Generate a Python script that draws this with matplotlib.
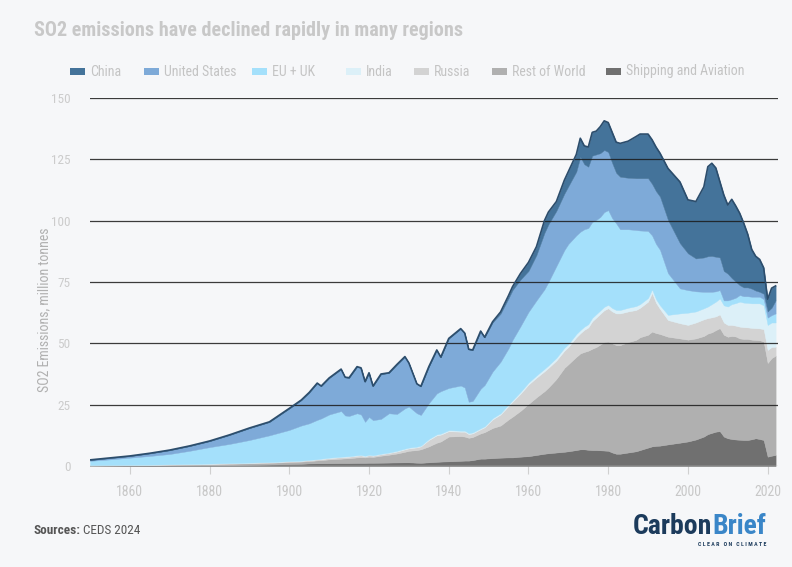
import numpy as np
import matplotlib
matplotlib.use('Agg')
import matplotlib.pyplot as plt
from matplotlib import font_manager
from matplotlib.patches import Rectangle

# SO2 emissions by region, million tonnes
years = [1850, 1855, 1860, 1865, 1870, 1875, 1880, 1885, 1890, 1895,
         1900, 1903, 1905, 1907, 1908, 1910, 1913, 1914, 1915, 1917, 1918, 1919,
         1920, 1921, 1923, 1925, 1927, 1929, 1930, 1932, 1933, 1935, 1937, 1938,
         1940, 1943, 1944, 1945, 1946, 1948, 1949, 1951, 1953, 1955, 1956, 1958,
         1960, 1962, 1964, 1965, 1967, 1969, 1970, 1972, 1973, 1974, 1975, 1976, 1977, 1978, 1979,
         1980, 1981, 1982, 1983, 1985, 1987, 1988, 1990, 1991, 1992, 1993, 1995, 1998,
         2000, 2002, 2004, 2005, 2006, 2007, 2008, 2009, 2010, 2011, 2012, 2013, 2014, 2015,
         2016, 2017, 2018, 2019, 2020, 2021, 2022]

shipping = [.1, .1, .15, .2, .25, .3, .35, .4, .5, .6,
            .8, .9, 1.05, 1.1, 1.1, 1.15, 1.2, 1.2, 1.2, 1.25, 1.25, 1.25,
            1.3, 1.3, 1.35, 1.4, 1.45, 1.5, 1.5, 1.35, 1.3, 1.5, 1.7, 1.8,
            1.9, 2.1, 2.2, 2.2, 2.4, 3.0, 3.0, 3.2, 3.4, 3.5, 3.5, 3.8,
            4.0, 4.5, 5.0, 5.2, 5.5, 5.8, 6.0, 6.5, 6.8, 6.8, 6.6, 6.5, 6.5, 6.4, 6.3,
            6.2, 5.5, 5.0, 5.0, 5.5, 6.0, 6.5, 7.5, 8.0, 8.2, 8.3, 8.8, 9.5,
            10.0, 10.8, 12.0, 13.0, 13.5, 14.0, 14.2, 12.0, 11.3, 11.0, 10.8, 10.7, 10.6, 10.6,
            10.9, 11.3, 11.0, 10.6, 3.8, 4.2, 4.5]

rest_of_world = [.1, .15, .15, .2, .25, .3, .4, .5, .6, .7,
                 .8, .9, .95, 1.2, 1.3, 1.55, 1.8, 1.9, 2.0, 2.25, 2.35, 2.25,
                 2.5, 2.4, 2.85, 3.2, 3.65, 4.3, 4.7, 5.15, 5.5, 6.5, 7.8, 8.2,
                 10.1, 10.1, 9.8, 9.3, 9.4, 10.3, 10.8, 12.3, 13.1, 15.5, 16.6, 18.7,
                 21.3, 23.5, 25.5, 26.8, 30.0, 34.2, 35.5, 38.0, 39.1, 39.7, 40.4, 41.3, 42.0, 43.1, 44.2,
                 44.5, 44.5, 44.3, 44.3, 45.0, 45.4, 46.0, 46.0, 46.8, 46.0, 45.5, 43.9, 42.5,
                 41.5, 41.2, 41.0, 41.0, 41.0, 41.4, 42.0, 41.5, 41.4, 42.0, 42.0, 41.3, 41.2, 41.2,
                 40.6, 40.1, 40.3, 40.1, 38.2, 39.8, 40.5]

russia = [.05, .05, .1, .1, .15, .15, .15, .2, .2, .2,
          .3, .3, .4, .4, .4, .5, .6, .6, .6, .7, .7, .5,
          .6, .5, .6, .7, .8, 1.0, 1.0, 1.1, 1.2, 2.6, 3.0, 2.8,
          2.2, 1.8, 2.0, 1.5, 1.5, 1.7, 2.0, 3.5, 4.5, 5.5, 6.1, 7.0,
          7.9, 8.0, 8.1, 8.0, 7.5, 7.0, 7.0, 8.0, 8.2, 9.0, 9.5, 11.2, 12.0, 12.5, 13.0,
          13.6, 13.0, 12.9, 12.9, 12.5, 12.2, 12.0, 13.5, 15.8, 12.3, 10.2, 6.8, 6.2,
          6.0, 6.5, 6.8, 6.3, 6.1, 5.6, 5.6, 5.0, 4.8, 4.5, 4.4, 4.8, 4.8, 4.7,
          4.8, 4.8, 4.8, 5.1, 5.3, 4.5, 3.6]

india = [.05, .05, .05, .05, .05, .1, .1, .1, .1, .1,
         .1, .1, .1, .1, .2, .2, .2, .2, .2, .2, .2, .2,
         .2, .2, .2, .2, .3, .3, .3, .3, .3, .4, .4, .4,
         .4, .4, .4, .4, .4, .4, .4, .5, .5, .6, .6, .7,
         .8, .9, 1.0, 1.0, 1.1, 1.2, 1.2, 1.3, 1.3, 1.3, 1.3, 1.4, 1.4, 1.4, 1.4,
         1.4, 1.4, 1.4, 1.4, 1.5, 1.6, 1.5, 1.5, 1.4, 1.5, 1.5, 2.1, 4.0,
         5.0, 4.5, 4.5, 4.7, 5.4, 6.0, 6.5, 7.0, 7.5, 8.5, 9.2, 10.2, 10.0, 10.0,
         10.0, 10.1, 10.2, 9.7, 10.2, 10.0, 9.9]

eu_uk = [1.8, 2.35, 2.95, 3.55, 4.2, 5.35, 6.7, 7.8, 9.2, 10.9,
         12.7, 14.3, 14.9, 16.0, 16.4, 17.6, 18.6, 16.7, 16.4, 17.1, 16.5, 13.8,
         15.4, 14.3, 14.2, 16.0, 15.0, 16.4, 16.7, 13.6, 12.5, 14.6, 16.7, 17.3,
         17.2, 18.4, 17.6, 12.8, 12.8, 16.1, 16.8, 19.0, 21.0, 22.9, 24.6, 26.8,
         28.8, 30.6, 32.4, 34.0, 37.4, 39.8, 40.8, 40.2, 40.1, 39.7, 39.2, 39.1, 38.4, 38.1, 38.6,
         38.6, 36.6, 35.3, 32.9, 32.0, 31.0, 30.0, 27.3, 22.0, 22.5, 22.6, 17.0, 10.2,
         9.2, 8.2, 6.7, 6.0, 5.0, 4.2, 3.4, 2.0, 2.5, 2.0, 2.2, 2.7, 2.6, 2.7,
         2.7, 2.7, 2.7, 2.5, 3.0, 3.0, 3.7]

united_states = [.3, .5, .6, 1.0, 1.5, 1.9, 2.4, 3.6, 4.8, 5.4,
                 8.7, 10.3, 12.5, 14.9, 13.1, 14.8, 17.0, 15.5, 15.5, 18.9, 18.9, 16.3,
                 17.9, 13.8, 18.2, 16.4, 20.1, 21.0, 17.7, 11.9, 11.6, 14.8, 17.6, 13.8,
                 20.1, 23.1, 22.1, 21.3, 20.7, 23.4, 19.4, 20.0, 19.6, 20.4, 20.3, 19.0,
                 16.7, 18.5, 23.0, 23.5, 22.5, 23.0, 23.5, 26.0, 30.5, 26.5, 25.0, 27.0, 26.7, 26.0, 25.3,
                 23.7, 22.5, 20.6, 21.4, 21.0, 21.1, 21.3, 21.5, 21.0, 21.5, 21.7, 21.7, 18.4,
                 15.0, 13.4, 14.0, 14.5, 14.6, 14.1, 13.3, 12.0, 10.9, 8.6, 6.5, 4.0, 3.6, 3.6,
                 3.3, 2.5, 2.0, 2.2, 2.5, 3.0, 5.3]

china = [.1, .1, .1, .1, .1, .1, .1, .1, .1, .1,
         .1, .1, .1, .1, .1, .1, .1, .1, .1, .1, .1, .1,
         .1, .1, .1, .1, .1, .1, .1, .1, .1, .1, .1, .1,
         .1, .1, .1, .1, .1, .1, .1, .3, .7, 1.1, 1.4, 2.5,
         3.5, 3.4, 5.0, 5.0, 3.8, 5.5, 6.0, 7.0, 7.6, 7.5, 8.0, 9.5, 9.5, 10.8, 11.9,
         12.0, 12.5, 12.5, 13.6, 14.9, 17.0, 18.0, 18.0, 18.0, 18.0, 17.7, 21.0, 25.0,
         21.8, 23.2, 28.8, 36.5, 37.8, 36.2, 31.0, 31.0, 28.0, 32.1, 30.9, 29.3, 26.2, 21.7,
         16.0, 14.0, 13.2, 10.6, 5.0, 8.0, 5.9]

legend_names = ['China', 'United States', 'EU + UK', 'India', 'Russia',
                'Rest of World', 'Shipping and Aviation']
yticks = [0, 25, 50, 75, 100, 125, 150]
xticks = [1860, 1880, 1900, 1920, 1940, 1960, 1980, 2000, 2020]

BG = '#f6f7f9'
colours = {
    'China': '#44739a',
    'United States': '#7eaad8',
    'EU + UK': '#a4e0fb',
    'India': '#dcf0f8',
    'Russia': '#d3d3d3',
    'Rest of World': '#b0b0b0',
    'Shipping and Aviation': '#707070',
}

avail = {f.name for f in font_manager.fontManager.ttflist}


def pick(*fams):
    for f in fams:
        if f in avail:
            return f
    return 'DejaVu Sans'


NARROW = pick('Liberation Sans Narrow', 'Roboto Condensed', 'Open Sans Condensed', 'Roboto')

W, H = 792, 567
fig = plt.figure(figsize=(W / 100, H / 100), dpi=100, facecolor=BG)


def fx(px):
    return px / W


def fy(py):
    return 1 - py / H


ax = fig.add_axes([fx(90), fy(466), fx(778) - fx(90), fy(98) - fy(466)])
ax.set_facecolor(BG)

layers = [('Shipping and Aviation', shipping), ('Rest of World', rest_of_world),
          ('Russia', russia), ('India', india), ('EU + UK', eu_uk),
          ('United States', united_states), ('China', china)]
base = np.zeros(len(years))
for name, vals in layers:
    top = base + np.array(vals)
    ax.fill_between(years, base, top, facecolor=colours[name],
                    edgecolor=colours[name], lw=0.3, zorder=2)
    base = top
ax.plot(years, base, color='#2c4d6c', lw=1.2, zorder=4)

for v in yticks[1:]:
    ax.axhline(v, color='#1a1a1a', lw=0.9, alpha=0.85, zorder=3)
ax.axhline(0, color='#d0d0d0', lw=1.0, zorder=3)

ax.set_xlim(1850, 2022.6)
ax.set_ylim(0, 150)
for s in ax.spines.values():
    s.set_visible(False)
ax.set_yticks(yticks)
ax.set_xticks(xticks)
ax.tick_params(axis='y', length=0, pad=14, labelsize=9.5, labelcolor='#cccccc')
ax.tick_params(axis='x', length=6, width=0.8, color='#d0d0d0', pad=8,
               labelsize=10, labelcolor='#c8c8c8')
for lab in ax.get_xticklabels() + ax.get_yticklabels():
    lab.set_fontfamily(NARROW)

fig.text(fx(44), fy(310), 'SO2 Emissions, million tonnes', rotation=90,
         ha='center', va='center', fontsize=10, color='#b0b0b0', family=NARROW)

# title
fig.text(fx(34), fy(30), 'SO2 emissions have declined rapidly in many regions',
         ha='left', va='center', fontsize=14.5, fontweight='bold',
         color='#c8c8c8', family=NARROW)

# legend
swatch_x = [70, 144, 252, 346, 414, 492, 606]
for name, sx in zip(legend_names, swatch_x):
    fig.patches.append(Rectangle((fx(sx), fy(75)), fx(15), 7 / H,
                                 transform=fig.transFigure,
                                 facecolor=colours[name], edgecolor='none'))
    fig.text(fx(sx + 20), fy(71.5), name, ha='left', va='center', fontsize=10,
             color='#c4c4c4', family=NARROW)

# footer
t1 = fig.text(fx(33), fy(530), 'Sources:', ha='left', va='center', fontsize=9.5,
              fontweight='bold', color='#555555', family=NARROW)
fig.canvas.draw()
r = fig.canvas.get_renderer()
bb = t1.get_window_extent(r)
fig.text(bb.x1 / W + fx(3), fy(530), 'CEDS 2024', ha='left', va='center',
         fontsize=9.5, color='#555555', family=NARROW)

tb = fig.text(fx(766), fy(527), 'Brief', ha='right', va='center', fontsize=20,
              fontweight='bold', color='#3a86c8', family=NARROW)
bb2 = tb.get_window_extent(r)
fig.text(bb2.x0 / W, fy(527), 'Carbon', ha='right', va='center', fontsize=20,
         fontweight='bold', color='#1c3b5c', family=NARROW)
fig.text(fx(766), fy(545), 'C L E A R   O N   C L I M A T E', ha='right', va='center',
         fontsize=4.2, fontweight='bold', color='#1c3b5c', family=NARROW)

fig.savefig('out.png', dpi=100, facecolor=BG)
